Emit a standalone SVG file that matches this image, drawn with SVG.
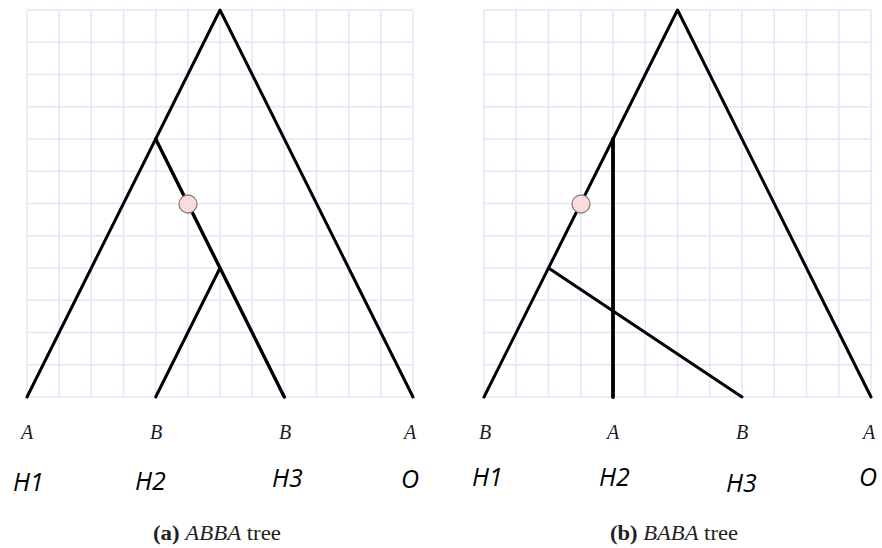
<svg xmlns="http://www.w3.org/2000/svg" width="882" height="548" viewBox="0 0 882 548">
<style>
.grid line { stroke: #e4e4fa; stroke-width: 1.5; }
.edge { stroke: #000; stroke-width: 3; fill: none; stroke-linecap: round; stroke-linejoin: round; }
.thick { stroke-width: 3.8; }
.mark { fill: #fbdcdc; stroke: #8a7f7f; stroke-width: 1.3; }
.state { font-family: 'Liberation Serif', 'Times New Roman', Times, serif; font-style: italic; font-size: 20px; fill: #1a1a2e; text-anchor: middle; }
.pop { font-family: 'Open Sans', 'Liberation Sans', sans-serif; font-style: italic; font-size: 25px; fill: #000; }
.cap { font-family: 'Liberation Serif', 'Times New Roman', Times, serif; font-size: 20px; fill: #222; text-anchor: middle; }
</style>
<rect width="882" height="548" fill="#fff"/>

<g id="grid-a" class="grid">
<line x1="27" y1="10" x2="27" y2="397"/><line x1="59.2" y1="10" x2="59.2" y2="397"/><line x1="91.3" y1="10" x2="91.3" y2="397"/><line x1="123.5" y1="10" x2="123.5" y2="397"/><line x1="155.7" y1="10" x2="155.7" y2="397"/><line x1="187.8" y1="10" x2="187.8" y2="397"/><line x1="220" y1="10" x2="220" y2="397"/><line x1="252.2" y1="10" x2="252.2" y2="397"/><line x1="284.3" y1="10" x2="284.3" y2="397"/><line x1="316.5" y1="10" x2="316.5" y2="397"/><line x1="348.7" y1="10" x2="348.7" y2="397"/><line x1="380.8" y1="10" x2="380.8" y2="397"/><line x1="413" y1="10" x2="413" y2="397"/>
<line x1="27" y1="10" x2="413" y2="10"/><line x1="27" y1="42.25" x2="413" y2="42.25"/><line x1="27" y1="74.5" x2="413" y2="74.5"/><line x1="27" y1="106.75" x2="413" y2="106.75"/><line x1="27" y1="139" x2="413" y2="139"/><line x1="27" y1="171.25" x2="413" y2="171.25"/><line x1="27" y1="203.5" x2="413" y2="203.5"/><line x1="27" y1="235.75" x2="413" y2="235.75"/><line x1="27" y1="268" x2="413" y2="268"/><line x1="27" y1="300.25" x2="413" y2="300.25"/><line x1="27" y1="332.5" x2="413" y2="332.5"/><line x1="27" y1="364.75" x2="413" y2="364.75"/><line x1="27" y1="397" x2="413" y2="397"/>
</g>

<g id="grid-b" class="grid">
<line x1="484" y1="10" x2="484" y2="397"/><line x1="516.25" y1="10" x2="516.25" y2="397"/><line x1="548.5" y1="10" x2="548.5" y2="397"/><line x1="580.75" y1="10" x2="580.75" y2="397"/><line x1="613" y1="10" x2="613" y2="397"/><line x1="645.25" y1="10" x2="645.25" y2="397"/><line x1="677.5" y1="10" x2="677.5" y2="397"/><line x1="709.75" y1="10" x2="709.75" y2="397"/><line x1="742" y1="10" x2="742" y2="397"/><line x1="774.25" y1="10" x2="774.25" y2="397"/><line x1="806.5" y1="10" x2="806.5" y2="397"/><line x1="838.75" y1="10" x2="838.75" y2="397"/><line x1="871" y1="10" x2="871" y2="397"/>
<line x1="484" y1="10" x2="871" y2="10"/><line x1="484" y1="42.25" x2="871" y2="42.25"/><line x1="484" y1="74.5" x2="871" y2="74.5"/><line x1="484" y1="106.75" x2="871" y2="106.75"/><line x1="484" y1="139" x2="871" y2="139"/><line x1="484" y1="171.25" x2="871" y2="171.25"/><line x1="484" y1="203.5" x2="871" y2="203.5"/><line x1="484" y1="235.75" x2="871" y2="235.75"/><line x1="484" y1="268" x2="871" y2="268"/><line x1="484" y1="300.25" x2="871" y2="300.25"/><line x1="484" y1="332.5" x2="871" y2="332.5"/><line x1="484" y1="364.75" x2="871" y2="364.75"/><line x1="484" y1="397" x2="871" y2="397"/>
</g>

<g id="connectors">
<path class="edge" d="M27,397 L220,10 L413,397"/>
<path class="edge" d="M155.7,139 L284.3,397" style="stroke-width:3.4"/>
<path class="edge" d="M220,268 L155.7,397"/>
<path class="edge" d="M484,397 L677.5,10 L871,397"/>
<path class="edge thick" d="M613,139 L613,397"/>
<path class="edge" d="M548.5,268 L742,397"/>
</g>

<g id="event-a"><circle class="mark" cx="188" cy="204" r="9"/></g>
<g id="event-b"><circle class="mark" cx="581" cy="204" r="9"/></g>

<g id="leaf-a1"><text class="state" x="27" y="439">A</text><text class="pop" x="13" y="491">H1</text></g>
<g id="leaf-a2"><text class="state" x="156" y="439">B</text><text class="pop" x="135" y="490">H2</text></g>
<g id="leaf-a3"><text class="state" x="285" y="439">B</text><text class="pop" x="272" y="487">H3</text></g>
<g id="leaf-a4"><text class="state" x="410" y="439">A</text><text class="pop" x="401" y="488">O</text></g>

<g id="leaf-b1"><text class="state" x="485" y="439">B</text><text class="pop" x="472" y="486">H1</text></g>
<g id="leaf-b2"><text class="state" x="613" y="439">A</text><text class="pop" x="599" y="486">H2</text></g>
<g id="leaf-b3"><text class="state" x="742" y="439">B</text><text class="pop" x="726" y="492">H3</text></g>
<g id="leaf-b4"><text class="state" x="869" y="439">A</text><text class="pop" x="859" y="486">O</text></g>

<g id="caption-a"><text class="cap" x="217" y="540" textLength="128" lengthAdjust="spacingAndGlyphs"><tspan font-weight="bold">(a)</tspan> <tspan font-style="italic">ABBA</tspan> tree</text></g>
<g id="caption-b"><text class="cap" x="674" y="540" textLength="128" lengthAdjust="spacingAndGlyphs"><tspan font-weight="bold">(b)</tspan> <tspan font-style="italic">BABA</tspan> tree</text></g>
</svg>
